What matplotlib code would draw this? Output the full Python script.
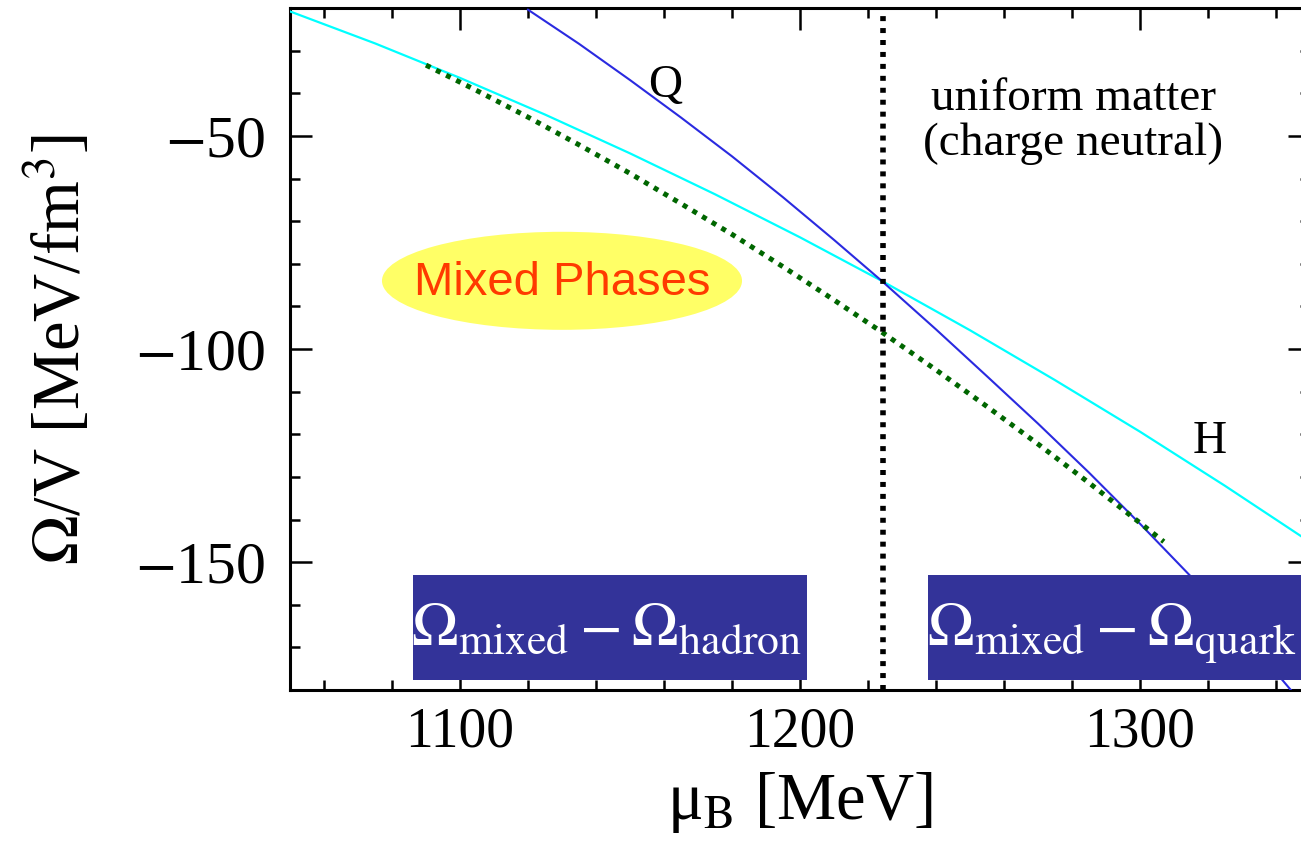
import matplotlib
matplotlib.use("Agg")
import matplotlib.pyplot as plt
from matplotlib.patches import Ellipse, Rectangle
from matplotlib.ticker import MultipleLocator, FuncFormatter

plt.rcParams['font.family'] = ['Liberation Serif', 'DejaVu Serif']
plt.rcParams['mathtext.fontset'] = 'stix'

# Hadronic (H) branch of the thermodynamic potential
mu_H = [1050, 1075, 1100, 1125, 1150, 1175, 1200, 1224, 1250, 1275, 1300, 1325, 1350]
omega_H = [-20.8, -28.3, -36.4, -45.0, -54.1, -63.7, -73.8, -84.0, -95.6, -107.3,
           -119.4, -132.1, -145.3]

# Quark (Q) branch
mu_Q = [1120, 1135, 1150, 1165, 1180, 1195, 1210, 1224, 1240, 1255, 1270, 1285,
        1300, 1315, 1330, 1345]
omega_Q = [-20.4, -28.4, -36.9, -45.7, -54.8, -64.4, -74.4, -84.0, -95.4, -106.4,
           -117.5, -129.0, -141.0, -153.4, -166.5, -180.6]

# Mixed-phase curve
mu_mixed = [1090, 1105, 1120, 1135, 1150, 1165, 1180, 1195, 1210, 1224, 1240, 1255,
            1270, 1285, 1300, 1307]
omega_mixed = [-33.4, -39.4, -45.6, -52.1, -58.8, -65.9, -73.1, -80.7, -88.5, -96.0,
               -104.9, -113.5, -122.3, -131.4, -140.8, -145.2]

# Crossing point of the uniform phases
mu_cross = 1224.4

W, H = 1301, 844
fig = plt.figure(figsize=(W / 100, H / 100), dpi=100)
ax = fig.add_axes([290 / W, (H - 690) / H, 1020 / W, 682 / H])

ax.add_patch(Ellipse((1130, -84.0), 105.9, 23.0, facecolor='#ffff66',
                     edgecolor='none', zorder=1))
ax.text(1130, -87.3, 'Mixed Phases', family='Liberation Sans', fontsize=34,
        color='#ff3a00', ha='center', va='baseline', zorder=2)

ax.plot(mu_H, omega_H, color='#00ffff', lw=1.6, zorder=3)
ax.plot(mu_Q, omega_Q, color='#2a2ae0', lw=1.5, zorder=3)
ax.plot(mu_mixed, omega_mixed, color='#006600', lw=3.6, dashes=(1, 1.25),
        dash_capstyle='butt', zorder=4)
ax.axvline(mu_cross, color='black', lw=4, dashes=(0.9, 1.25), zorder=4)

ax.text(1160.3, -40.8, 'Q', fontsize=34, ha='center', va='baseline')
ax.text(1320.6, -124.4, 'H', fontsize=34, ha='center', va='baseline')
ax.text(1280.3, -43.9, 'uniform matter', fontsize=34, ha='center', va='baseline')
ax.text(1280.3, -54.5, '(charge neutral)', fontsize=34, ha='center', va='baseline')

box_color = '#333399'
ax.add_patch(Rectangle((1086.2, -177.7), 115.9, 24.6, facecolor=box_color,
                       edgecolor='none', zorder=6, clip_on=False))
ax.add_patch(Rectangle((1237.6, -177.7), 112.4, 24.6, facecolor=box_color,
                       edgecolor='none', zorder=6, clip_on=False))
ax.text(1143.2, -169.7, r'$\Omega_{\mathrm{mixed}} - \Omega_{\mathrm{hadron}}$',
        color='white', fontsize=45, ha='center', va='baseline', zorder=7)
ax.text(1291.8, -169.7, r'$\Omega_{\mathrm{mixed}} - \Omega_{\mathrm{quark}}$',
        color='white', fontsize=45, ha='center', va='baseline', zorder=7)

ax.set_xlim(1050, 1350)
ax.set_ylim(-180, -20)
ax.xaxis.set_major_locator(MultipleLocator(100))
ax.xaxis.set_minor_locator(MultipleLocator(20))
ax.yaxis.set_major_locator(MultipleLocator(50))
ax.yaxis.set_minor_locator(MultipleLocator(10))
ax.yaxis.set_major_formatter(FuncFormatter(
    lambda v, p: f'$-${abs(v):.0f}' if v < 0 else f'{v:.0f}'))
ax.tick_params(which='both', direction='in', top=True, right=True, width=1.8)
ax.tick_params(which='major', length=16)
ax.tick_params(which='minor', length=7.5)
ax.tick_params(axis='x', pad=12, labelsize=40)
ax.tick_params(axis='y', pad=18, labelsize=43)
for s in ax.spines.values():
    s.set_linewidth(2.2)

ax.set_xlabel('μ$_{\\mathrm{B}}$ [MeV]', fontsize=48)
ax.set_ylabel(r'$\Omega$/V [MeV/fm$^3$]', fontsize=48)
ax.xaxis.set_label_coords(0.5, -0.117)
ax.yaxis.set_label_coords(-0.192, 0.5)

fig.savefig('out.png', dpi=100)
